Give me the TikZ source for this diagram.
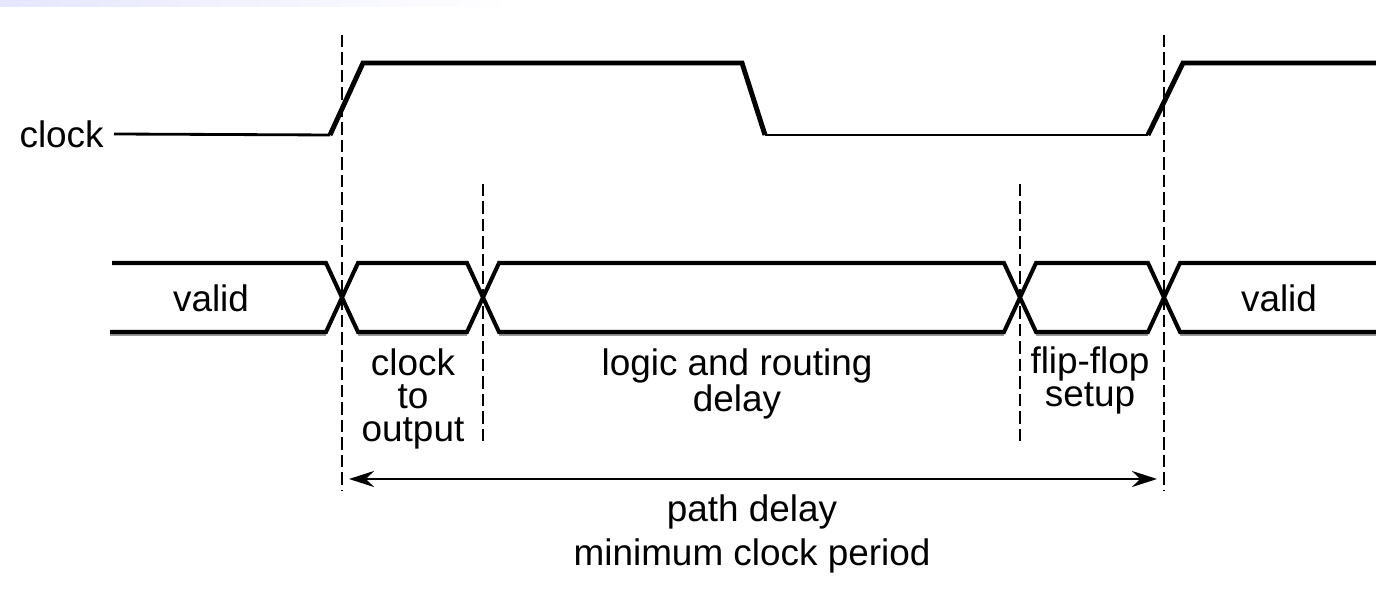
\documentclass[tikz,border=0pt]{standalone}
\usepackage{fontspec}
\setmainfont{Liberation Sans}
\usetikzlibrary{arrows.meta}

\begin{document}
\begin{tikzpicture}[x=0.02cm,y=-0.02cm,
    lbl/.style={font=\fontsize{21}{18.8}\selectfont, inner sep=0pt, anchor=base, align=center},
    high/.style={line width=2.8pt},
    low/.style={line width=1.6pt},
    bus/.style={line width=2.3pt},
    busshade/.style={line width=1.3pt, draw=black!40},
    marker/.style={dashed, line width=1.3pt, dash pattern=on 0.25cm off 0.1cm},
    span/.style={{Stealth[length=0.5cm,width=0.32cm]}-{Stealth[length=0.5cm,width=0.32cm]}, line width=1.4pt}]
      \useasboundingbox (0,0) rectangle (1376,590);
      \shade[left color=blue!10, right color=white] (0,0) rectangle (510,7);
      \node (clk) [font=\fontsize{21}{18.8}\selectfont, anchor=east, inner sep=0.2cm] at (114,134) {clock};
      \draw[low] (clk.east) -- (330,135);
      \draw[high] (330,135) -- (363,63) -- (742,63) -- (765,135);
      \draw[low] (765,135) -- (1148,135);
      \draw[high] (1148,135) -- (1183,63) -- (1376,63);
      \begin{scope}[busshade]
        \draw (110,335) -- (326,335);
        \draw (358,335) -- (467,335);
        \draw (499,335) -- (1004,335);
        \draw (1036,335) -- (1148,335);
        \draw (1180,335) -- (1376,335);
      \end{scope}
      \draw[bus] (112,263) -- (326,263) -- (358,332) -- (467,332) -- (499,263) -- (1004,263) -- (1036,332) -- (1148,332) -- (1180,263) -- (1376,263);
      \draw[bus] (110,332) -- (326,332) -- (358,263) -- (467,263) -- (499,332) -- (1004,332) -- (1036,263) -- (1148,263) -- (1180,332) -- (1376,332);
      \coordinate (t0) at (342,35);
      \coordinate (b0) at (342,490);
      \coordinate (t1) at (483,184);
      \coordinate (b1) at (483,446);
      \coordinate (t2) at (1020,184);
      \coordinate (b2) at (1020,446);
      \coordinate (t3) at (1164,35);
      \coordinate (b3) at (1164,490);
      \begin{scope}[marker]
        \draw (t0) to (b0);
        \draw (t1) to (b1);
        \draw (t2) to (b2);
        \draw (t3) to (b3);
      \end{scope}
      \coordinate (p0) at (349,479);
      \coordinate (p1) at (1157,479);
      \draw[span] (p0) to (p1);
      \node (valid0) [lbl] at (211,312) {valid};
      \node (valid1) [lbl] at (1279,312) {valid};
      \node (c2q) [lbl] at (413,442) {clock\\to\\output};
      \node (route) [lbl] at (737,412) {logic and routing\\delay};
      \node (setup) [lbl] at (1090,407) {flip-flop\\setup};
      \node (period) [lbl] at (752,566) {path delay\\[5pt]minimum clock period};
\end{tikzpicture}
\end{document}
